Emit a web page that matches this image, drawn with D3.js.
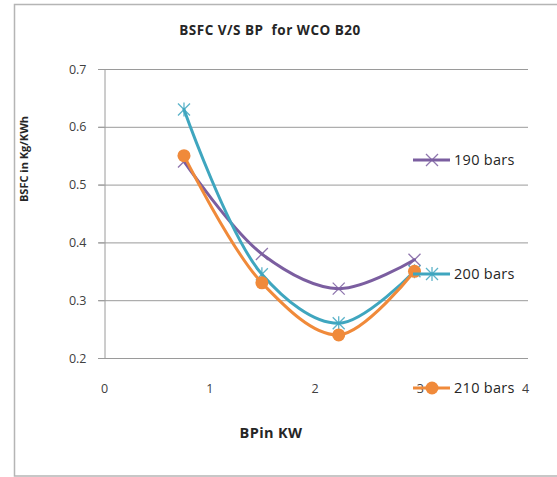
<!DOCTYPE html>
<html>
<head>
<meta charset="utf-8">
<script src="https://cdn.jsdelivr.net/npm/d3@7/dist/d3.min.js"></script>
<style>
  html, body { margin: 0; padding: 0; background: #fff; }
  svg { display: block; }
  text { font-family: "Open Sans", "Liberation Sans", sans-serif; white-space: pre; }
</style>
</head>
<body>
<svg id="chart" width="557" height="477"></svg>
<script>
// BSFC (kg/kWh) against brake power (kW) for WCO B20 at three injection pressures
const bp = [0.76, 1.5, 2.23, 2.95];
const series190 = [0.54, 0.38, 0.32, 0.37];
const series200 = [0.63, 0.345, 0.26, 0.35];
const series210 = [0.55, 0.33, 0.24, 0.35];
const seriesNames = ["190 bars", "200 bars", "210 bars"];
const xTicks = [0, 1, 2, 3, 4];
const yTicks = [0.2, 0.3, 0.4, 0.5, 0.6, 0.7];

const colors = ["#7B5EA0", "#3FA6BF", "#F08A3A"];
const markers = ["x", "star", "circle"];
const allSeries = [series190, series200, series210];

const svg = d3.select("#chart");

// outer frame
svg.append("path")
  .attr("d", "M557,4.5 H14.5 V476 H557")
  .attr("fill", "none").attr("stroke", "#b5b5b5").attr("stroke-width", 1.5);

const x = d3.scaleLinear().domain([0, 4]).range([104, 525]);
const y = d3.scaleLinear().domain([0.2, 0.7]).range([358, 69]);

// horizontal gridlines
svg.append("g").selectAll("line").data(yTicks).join("line")
  .attr("x1", 98).attr("x2", 528)
  .attr("y1", d => y(d) + 0.5).attr("y2", d => y(d) + 0.5)
  .attr("stroke", "#9a9a9a").attr("stroke-width", 1);

// y axis
const yAxis = svg.append("g").attr("transform", "translate(104.5,0)")
  .call(d3.axisLeft(y).tickValues(yTicks).tickFormat(d3.format(".1f")).tickSize(6).tickPadding(12));
yAxis.select(".domain").attr("stroke", "#9a9a9a");
yAxis.selectAll(".tick line").attr("stroke", "#9a9a9a");
yAxis.selectAll("text").attr("font-size", 12.5).attr("fill", "#404040").attr("font-family", "'Open Sans', sans-serif");

// x tick labels
const xAxis = svg.append("g").attr("transform", "translate(0,378)")
  .call(d3.axisBottom(x).tickValues(xTicks).tickFormat(d3.format("d")).tickSize(0).tickPadding(6));
xAxis.select(".domain").remove();
xAxis.selectAll("text").attr("font-size", 12.5).attr("fill", "#404040").attr("font-family", "'Open Sans', sans-serif");

// titles
svg.append("text").attr("x", 270).attr("y", 35).attr("text-anchor", "middle")
  .attr("font-size", 13.5).attr("font-weight", "bold").attr("fill", "#262626")
  .attr("letter-spacing", 0.5)
  .text("BSFC V/S BP  for WCO B20");
svg.append("text").attr("x", 271).attr("y", 438).attr("text-anchor", "middle")
  .attr("font-size", 14.5).attr("font-weight", "bold").attr("fill", "#262626")
  .attr("letter-spacing", 0.4)
  .text("BPin KW");
svg.append("text").attr("transform", "translate(28,159) rotate(-90)").attr("text-anchor", "middle")
  .attr("font-size", 11).attr("font-weight", "bold").attr("fill", "#262626")
  .text("BSFC in Kg/KWh");

function drawMarker(g, type, cx, cy, color) {
  if (type === "x") {
    const s = 6;
    g.append("path").attr("d", `M${cx - s},${cy - s}L${cx + s},${cy + s}M${cx - s},${cy + s}L${cx + s},${cy - s}`)
      .attr("stroke", color).attr("stroke-width", 1.3).attr("fill", "none").attr("opacity", 0.85);
  } else if (type === "star") {
    const s = 6;
    g.append("path").attr("d", `M${cx - s},${cy - s}L${cx + s},${cy + s}M${cx - s},${cy + s}L${cx + s},${cy - s}M${cx},${cy - s - 1}L${cx},${cy + s + 1}`)
      .attr("stroke", color).attr("stroke-width", 1.3).attr("fill", "none").attr("opacity", 0.85);
  } else {
    g.append("circle").attr("cx", cx).attr("cy", cy).attr("r", 6.5).attr("fill", color);
  }
}

const line = d3.line()
  .x(d => x(d[0])).y(d => y(d[1]))
  .curve(d3.curveCatmullRom.alpha(0.5));

allSeries.forEach((vals, i) => {
  const pts = bp.map((b, j) => [b, vals[j]]);
  const g = svg.append("g");
  g.append("path").datum(pts).attr("d", line)
    .attr("fill", "none").attr("stroke", colors[i]).attr("stroke-width", 3)
    .attr("stroke-linecap", "round").attr("stroke-linejoin", "round");
  pts.forEach(p => drawMarker(g, markers[i], x(p[0]), y(p[1]), colors[i]));
});

// legend
const legendY = [160, 274, 388];
seriesNames.forEach((name, i) => {
  const g = svg.append("g");
  g.append("line").attr("x1", 413).attr("x2", 450).attr("y1", legendY[i]).attr("y2", legendY[i])
    .attr("stroke", colors[i]).attr("stroke-width", 3);
  drawMarker(g, markers[i], 432, legendY[i], colors[i]);
  g.append("text").attr("x", 454).attr("y", legendY[i] + 5)
    .attr("font-size", 14.5).attr("fill", "#262626").attr("letter-spacing", 0.3).text(name);
});
</script>
</body>
</html>
